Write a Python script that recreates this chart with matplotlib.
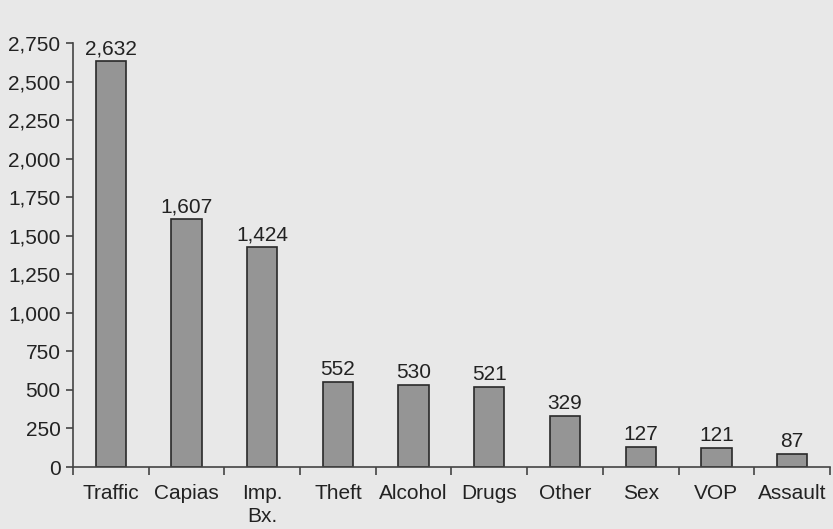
import matplotlib.pyplot as plt
import numpy as np

categories = ['Traffic', 'Capias', 'Imp.\nBx.', 'Theft', 'Alcohol', 'Drugs', 'Other', 'Sex', 'VOP', 'Assault']
counts = [2632, 1607, 1424, 552, 530, 521, 329, 127, 121, 87]

plt.rcParams['font.family'] = ['Liberation Sans', 'DejaVu Sans']
bg = '#e8e8e8'

fig = plt.figure(figsize=(8.33, 5.29), dpi=100, facecolor=bg)
ax = fig.add_axes([0.0876, 0.1172, 0.9088, 0.8015])
ax.set_facecolor(bg)

x = np.arange(len(categories))
bars = ax.bar(x, counts, width=0.4, color='#959595', edgecolor='#2a2a2a', linewidth=1.2)

for xi, v in zip(x, counts):
    ax.text(xi, v + 20, f'{v:,}', ha='center', va='bottom', fontsize=15, color='#222222')

ax.set_xlim(-0.5, len(categories) - 0.5)
ax.set_ylim(0, 2750)
ax.set_yticks(np.arange(0, 2751, 250))
ax.set_yticklabels([f'{t:,}' for t in range(0, 2751, 250)])

# ticks at category boundaries, labels centred under bars
ax.set_xticks(np.arange(-0.5, len(categories), 1.0))
ax.set_xticklabels([])
ax.set_xticks(x, minor=True)
ax.set_xticklabels(categories, minor=True, va='top', linespacing=1.3)
ax.tick_params(axis='x', which='minor', length=0, pad=12, labelsize=15, colors='#222222')
ax.tick_params(axis='x', which='major', length=6, width=1.2, direction='out', color='#444444')
ax.tick_params(axis='y', length=5, width=1.2, pad=4, labelsize=15, colors='#222222', color='#444444')

for s in ['top', 'right']:
    ax.spines[s].set_visible(False)
for s in ['left', 'bottom']:
    ax.spines[s].set_linewidth(1.2)
    ax.spines[s].set_color('#444444')

fig.savefig('out.png', dpi=100, facecolor=bg)
